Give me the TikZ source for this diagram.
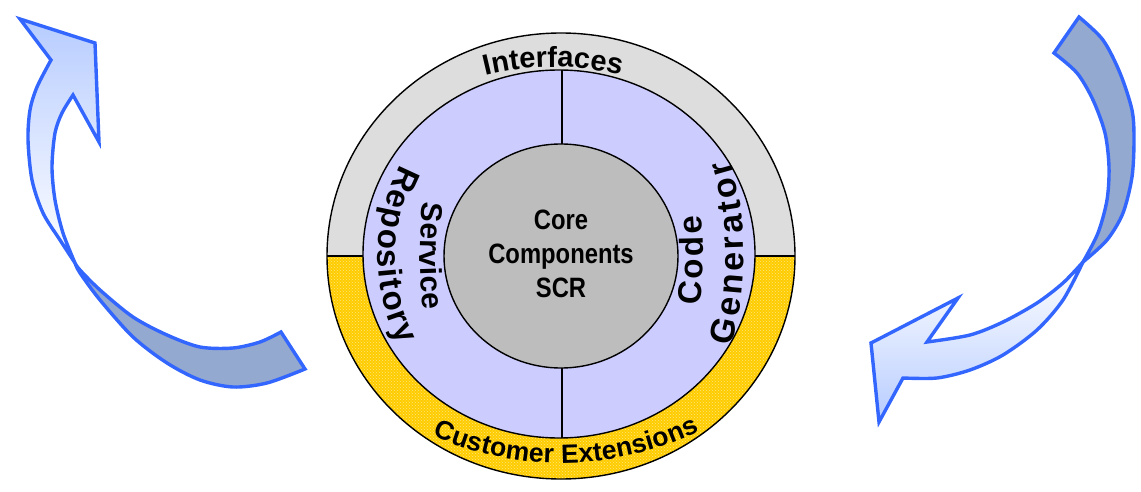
\documentclass[tikz,border=0pt]{standalone}
\usepackage{fontspec}
\usetikzlibrary{decorations.text,patterns}
\newfontfamily\lab{Liberation Sans}[FakeStretch=0.85]
\newfontfamily\labw{Liberation Sans}
\newcommand\labsize[1]{\lab\bfseries\fontsize{#1}{34}\selectfont}
\newcommand\arcsize[1]{\labw\bfseries\fontsize{#1}{34}\selectfont}
\definecolor{ringgray}{HTML}{DDDDDD}
\definecolor{ringyellow}{HTML}{FFCC00}
\definecolor{yellowdots}{HTML}{FFE680}
\definecolor{ringpurple}{HTML}{CCCCFF}
\definecolor{coregray}{HTML}{BDBDBD}
\definecolor{arrowblue}{HTML}{3366FF}
\definecolor{arrowdark}{HTML}{93A9CF}
\definecolor{arrowlight}{HTML}{B7CCFF}
\tikzset{
  ringline/.style={draw=black,line width=1.4pt},
  arrowline/.style={draw=arrowblue,line width=3.4pt,line join=miter},
  arctext/.style={decorate,decoration={text along path,text align={fit to path},text={#1}}}
}
\begin{document}
\begin{tikzpicture}[x=1pt,y=1pt]
\useasboundingbox (0,0) rectangle (1141,491);

% outer ring: grey upper half, dotted yellow lower half
\fill[ringgray] (327,235) arc[start angle=180,end angle=0,x radius=234pt,y radius=223pt] -- cycle;
\fill[ringyellow] (327,235) arc[start angle=180,end angle=360,x radius=234pt,y radius=223pt] -- cycle;
\fill[pattern=crosshatch dots,pattern color=yellowdots] (327,235) arc[start angle=180,end angle=360,x radius=234pt,y radius=223pt] -- cycle;
\draw[ringline] (561,235) ellipse [x radius=234pt,y radius=223pt];
\draw[ringline] (327,235) -- (795,235);

% middle ring, split in two halves
\filldraw[ringline,fill=ringpurple] (559,237) ellipse [x radius=196pt,y radius=184pt];
\draw[line width=1.2pt] (562,421) -- (562,53);

% core
\filldraw[ringline,fill=coregray] (561,235) ellipse [x radius=117pt,y radius=112pt];
\node[align=center,font={\labsize{28}},inner sep=0pt] (core) at (561,237) {Core\\Components\\SCR};

% ring labels
\path[arctext={|\arcsize{29}|Interfaces}] ([shift={(104:280pt)}]553,144) arc[start angle=104,end angle=76,radius=280pt];
\path[arctext={|\arcsize{26.5}|Customer Extensions}] ([shift={(246:316pt)}]561,344) arc[start angle=246,end angle=296,radius=316pt];
\path[arctext={|\arcsize{30}|Service}] ([shift={(168:141pt and 260pt)}]561,235) arc[start angle=168,end angle=192,x radius=141pt,y radius=260pt];
\path[arctext={|\arcsize{33}|Repository}] ([shift={(151:183pt and 189pt)}]561,235) arc[start angle=151,end angle=208,x radius=183pt,y radius=189pt];
\path[arctext={|\arcsize{33}|Code}] ([shift={(-11:142pt and 260pt)}]561,235) arc[start angle=-11,end angle=9,x radius=142pt,y radius=260pt];
\path[arctext={|\arcsize{34}|Generator}] ([shift={(-21.3:183pt and 250pt)}]561,235) arc[start angle=-21.3,end angle=22.6,x radius=183pt,y radius=250pt];

% left twisted arrow: dark back face
\filldraw[arrowline,fill=arrowdark]
  plot[smooth] coordinates {(75,228) (80,221) (100,201) (133,174) (167,156) (200,144) (233,143) (260,149) (281,159)}
  -- (305,122)
  -- plot[smooth] coordinates {(305,122) (267,108) (233,104) (200,111) (167,128) (133,154) (100,191) (80,218) (75,228)}
  -- cycle;
% left twisted arrow: light front face with head
\filldraw[arrowline,top color=arrowlight,middle color=white,bottom color=white]
  plot[smooth] coordinates {(75,228) (63,258) (55,291) (52,324) (55,358) (62,378) (73,396)}
  -- (99,349) -- (95,448) -- (20,472) -- (51,431)
  -- plot[smooth] coordinates {(51,431) (37,404) (30,381) (28,351) (32,311) (43,278) (60,251) (75,228)}
  -- cycle;

% right twisted arrow: dark back face
\filldraw[arrowline,fill=arrowdark]
  plot[smooth] coordinates {(1079,474) (1103,451) (1120,418) (1132,381) (1134,351) (1132,314) (1123,278) (1107,251) (1083,229)}
  -- plot[smooth] coordinates {(1083,229) (1098,258) (1107,291) (1109,324) (1105,358) (1093,391) (1077,418) (1054,438)}
  -- cycle;
% right twisted arrow: light front face with head
\filldraw[arrowline,top color=white,bottom color=arrowlight]
  plot[smooth] coordinates {(1083,229) (1063,208) (1037,188) (1003,169) (970,156) (927,149)}
  -- (958,193) -- (871,148) -- (879,69) -- (903,113)
  -- plot[smooth] coordinates {(903,113) (937,113) (970,121) (1003,136) (1037,161) (1063,191) (1083,229)}
  -- cycle;
\end{tikzpicture}
\end{document}
